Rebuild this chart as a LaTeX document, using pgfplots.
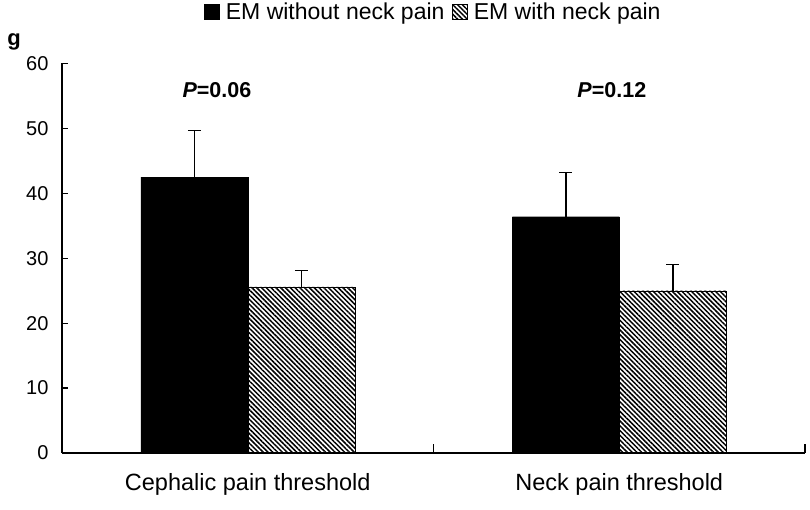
\documentclass[border=0pt]{standalone}
\usepackage{fontspec}
\setmainfont{Liberation Sans}
\usepackage{pgfplots}
\pgfplotsset{compat=1.18}
\usetikzlibrary{patterns.meta}

\begin{document}
\begin{tikzpicture}
\path[use as bounding box] (0,0) rectangle (810bp,510bp);
\begin{axis}[
  at={(62bp,57bp)}, anchor=south west,
  scale only axis,
  width=743bp, height=389.5bp,
  xmin=-0.5, xmax=1.5,
  ymin=0, ymax=60,
  ytick={0,10,...,60},
  xtick={0,1},
  xticklabels={Cephalic pain threshold, Neck pain threshold},
  major x tick style={draw=none},
  major tick length=6bp,
  axis lines=left,
  tick align=inside,
  axis line style={-, line width=1.2pt},
  ytick style={black, line width=1.2pt},
  /pgf/number format/assume math mode=true,
  yticklabel style={font=\fontsize{20bp}{24bp}\selectfont, xshift=-10bp},
  xticklabel style={font=\fontsize{23.5bp}{27bp}\selectfont, yshift=-11bp},
  ybar, bar width=107bp,
  legend columns=2,
  legend style={draw=none, at={(0.5,1.132)}, anchor=center,
                font=\fontsize{23bp}{26bp}\selectfont,
                /tikz/every odd column/.append style={column sep=4bp},
                /tikz/every even column/.append style={column sep=6bp}},
  legend image code/.code={\draw[#1, line width=0.4pt] (0bp,-7.5bp) rectangle (15bp,7.5bp);},
  clip=false,
]
\addplot[fill=black, draw=black, bar shift=-53.5bp,
         error bars/.cd, y dir=plus, y explicit,
         error bar style={black, line width=1.5pt},
         error mark options={rotate=90, mark size=6.5bp, line width=1.5pt}]
  coordinates {
    (0,42.5) +- (0,7.2)
    (1,36.4) +- (0,6.8)};
\addlegendentry{EM without neck pain}

\addplot[pattern={Lines[angle=-45, distance=3.4pt, line width=1.5pt]},
         pattern color=black, draw=black, bar shift=53.5bp,
         error bars/.cd, y dir=plus, y explicit,
         error bar style={black, line width=1.5pt},
         error mark options={rotate=90, mark size=6.5bp, line width=1.5pt}]
  coordinates {
    (0,25.6) +- (0,2.5)
    (1,25.0) +- (0,4.0)};
\addlegendentry{EM with neck pain}

% category boundary ticks, pointing up as in the original
\draw[line width=1.2pt] (axis cs:0.5,0) -- ([yshift=9bp]axis cs:0.5,0);
\draw[line width=1.2pt] (axis cs:1.5,0) -- ([yshift=9bp]axis cs:1.5,0);

\node[font=\fontsize{21.5bp}{24bp}\selectfont\bfseries] at (axis cs:-0.083,55.9) {\textit{P}=0.06};
\node[font=\fontsize{21.5bp}{24bp}\selectfont\bfseries] at (axis cs:0.98,55.9) {\textit{P}=0.12};
\end{axis}
\node[font=\fontsize{22bp}{24bp}\selectfont\bfseries] at (14bp,468bp) {g};
\end{tikzpicture}
\end{document}
